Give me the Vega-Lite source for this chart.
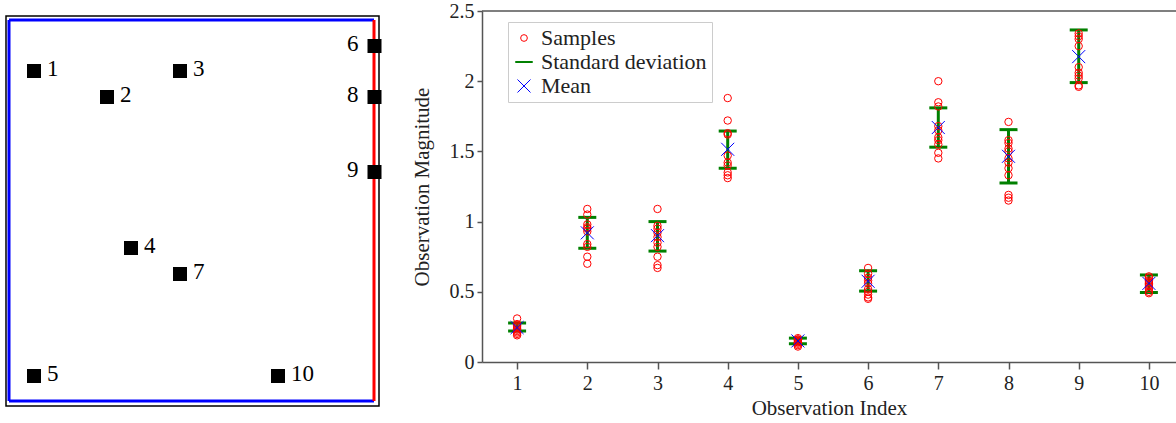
{
  "$schema": "https://vega.github.io/schema/vega-lite/v6.json",
  "background": "white",
  "padding": {"left": 5, "top": 1, "right": 0, "bottom": 0},
  "spacing": 29,
  "config": {
    "font": "Liberation Serif",
    "view": {"stroke": null},
    "axis": {
      "domainColor": "#555555",
      "domainWidth": 1.5,
      "tickColor": "#555555",
      "tickWidth": 1.5,
      "tickSize": 6,
      "grid": false,
      "labelFont": "Liberation Serif",
      "labelFontSize": 20,
      "labelColor": "#222222",
      "labelPadding": 3,
      "titleFont": "Liberation Serif",
      "titleFontSize": 21,
      "titleFontWeight": "normal",
      "titleColor": "#222222"
    }
  },
  "datasets": {
    "walls": [
      {"x": 3, "y": 5, "x2": 3, "y2": 386, "kind": "open"},
      {"x": 3, "y": 386, "x2": 368, "y2": 386, "kind": "open"},
      {"x": 3, "y": 5, "x2": 368, "y2": 5, "kind": "open"},
      {"x": 368, "y": 5, "x2": 368, "y2": 386, "kind": "reflective"}
    ],
    "sensors": [
      {"id": 1, "x": 28, "y": 335},
      {"id": 2, "x": 101, "y": 309},
      {"id": 3, "x": 174, "y": 335},
      {"id": 4, "x": 125, "y": 158},
      {"id": 5, "x": 28, "y": 30},
      {"id": 6, "x": 368.5, "y": 360},
      {"id": 7, "x": 174, "y": 132},
      {"id": 8, "x": 368.5, "y": 309},
      {"id": 9, "x": 368.5, "y": 234},
      {"id": 10, "x": 272, "y": 30}
    ],
    "samples": [
      {"idx": 1, "value": 0.31}, {"idx": 1, "value": 0.27}, {"idx": 1, "value": 0.26}, {"idx": 1, "value": 0.25}, {"idx": 1, "value": 0.24},
      {"idx": 1, "value": 0.23}, {"idx": 1, "value": 0.22}, {"idx": 1, "value": 0.21}, {"idx": 1, "value": 0.2}, {"idx": 1, "value": 0.19},
      {"idx": 2, "value": 1.09}, {"idx": 2, "value": 1.05}, {"idx": 2, "value": 0.98}, {"idx": 2, "value": 0.96}, {"idx": 2, "value": 0.95},
      {"idx": 2, "value": 0.93}, {"idx": 2, "value": 0.84}, {"idx": 2, "value": 0.82}, {"idx": 2, "value": 0.75}, {"idx": 2, "value": 0.7},
      {"idx": 3, "value": 1.09}, {"idx": 3, "value": 0.97}, {"idx": 3, "value": 0.95}, {"idx": 3, "value": 0.92}, {"idx": 3, "value": 0.89},
      {"idx": 3, "value": 0.85}, {"idx": 3, "value": 0.82}, {"idx": 3, "value": 0.75}, {"idx": 3, "value": 0.69}, {"idx": 3, "value": 0.67},
      {"idx": 4, "value": 1.88}, {"idx": 4, "value": 1.72}, {"idx": 4, "value": 1.63}, {"idx": 4, "value": 1.62}, {"idx": 4, "value": 1.47},
      {"idx": 4, "value": 1.42}, {"idx": 4, "value": 1.4}, {"idx": 4, "value": 1.35}, {"idx": 4, "value": 1.33}, {"idx": 4, "value": 1.31},
      {"idx": 5, "value": 0.17}, {"idx": 5, "value": 0.16}, {"idx": 5, "value": 0.16}, {"idx": 5, "value": 0.15}, {"idx": 5, "value": 0.15},
      {"idx": 5, "value": 0.14}, {"idx": 5, "value": 0.14}, {"idx": 5, "value": 0.13}, {"idx": 5, "value": 0.12}, {"idx": 5, "value": 0.11},
      {"idx": 6, "value": 0.67}, {"idx": 6, "value": 0.63}, {"idx": 6, "value": 0.6}, {"idx": 6, "value": 0.58}, {"idx": 6, "value": 0.56},
      {"idx": 6, "value": 0.52}, {"idx": 6, "value": 0.5}, {"idx": 6, "value": 0.48}, {"idx": 6, "value": 0.46}, {"idx": 6, "value": 0.45},
      {"idx": 7, "value": 2.0}, {"idx": 7, "value": 1.85}, {"idx": 7, "value": 1.82}, {"idx": 7, "value": 1.68}, {"idx": 7, "value": 1.65},
      {"idx": 7, "value": 1.6}, {"idx": 7, "value": 1.58}, {"idx": 7, "value": 1.55}, {"idx": 7, "value": 1.49}, {"idx": 7, "value": 1.45},
      {"idx": 8, "value": 1.71}, {"idx": 8, "value": 1.58}, {"idx": 8, "value": 1.56}, {"idx": 8, "value": 1.52}, {"idx": 8, "value": 1.5},
      {"idx": 8, "value": 1.45}, {"idx": 8, "value": 1.42}, {"idx": 8, "value": 1.38}, {"idx": 8, "value": 1.33}, {"idx": 8, "value": 1.19},
      {"idx": 8, "value": 1.17}, {"idx": 8, "value": 1.15},
      {"idx": 9, "value": 2.34}, {"idx": 9, "value": 2.32}, {"idx": 9, "value": 2.3}, {"idx": 9, "value": 2.25}, {"idx": 9, "value": 2.1},
      {"idx": 9, "value": 2.06}, {"idx": 9, "value": 2.04}, {"idx": 9, "value": 2.02}, {"idx": 9, "value": 1.97}, {"idx": 9, "value": 1.96},
      {"idx": 10, "value": 0.61}, {"idx": 10, "value": 0.6}, {"idx": 10, "value": 0.58}, {"idx": 10, "value": 0.57}, {"idx": 10, "value": 0.56},
      {"idx": 10, "value": 0.55}, {"idx": 10, "value": 0.54}, {"idx": 10, "value": 0.52}, {"idx": 10, "value": 0.5}, {"idx": 10, "value": 0.49}
    ],
    "summary": [
      {"idx": 1, "mean": 0.245, "lo": 0.22, "hi": 0.278},
      {"idx": 2, "mean": 0.92, "lo": 0.81, "hi": 1.03},
      {"idx": 3, "mean": 0.9, "lo": 0.79, "hi": 1.0},
      {"idx": 4, "mean": 1.515, "lo": 1.38, "hi": 1.645},
      {"idx": 5, "mean": 0.15, "lo": 0.13, "hi": 0.17},
      {"idx": 6, "mean": 0.575, "lo": 0.505, "hi": 0.65},
      {"idx": 7, "mean": 1.67, "lo": 1.53, "hi": 1.81},
      {"idx": 8, "mean": 1.465, "lo": 1.275, "hi": 1.655},
      {"idx": 9, "mean": 2.175, "lo": 1.99, "hi": 2.365},
      {"idx": 10, "mean": 0.56, "lo": 0.495, "hi": 0.62}
    ]
  },
  "resolve": {"scale": {"x": "independent", "y": "independent", "color": "independent", "shape": "independent"}},
  "hconcat": [
    {
      "width": 373,
      "height": 395,
      "layer": [
        {
          "data": {"values": [{}]},
          "mark": {"type": "rect", "fill": null, "stroke": "black", "strokeWidth": 1.5},
          "encoding": {
            "x": {"datum": 0, "type": "quantitative", "scale": {"domain": [0, 373], "nice": false, "zero": false}, "axis": null},
            "x2": {"datum": 373},
            "y": {"datum": 0, "type": "quantitative", "scale": {"domain": [0, 395], "nice": false, "zero": false}, "axis": null},
            "y2": {"datum": 390}
          }
        },
        {
          "data": {"name": "walls"},
          "mark": {"type": "rule", "strokeWidth": 3},
          "encoding": {
            "x": {"field": "x", "type": "quantitative"},
            "x2": {"field": "x2"},
            "y": {"field": "y", "type": "quantitative"},
            "y2": {"field": "y2"},
            "color": {"field": "kind", "type": "nominal", "scale": {"domain": ["open", "reflective"], "range": ["#0000ff", "#ff0000"]}, "legend": null},
            "order": {"field": "x", "type": "quantitative"}
          }
        },
        {
          "data": {"name": "sensors"},
          "mark": {"type": "point", "shape": "square", "filled": true, "color": "black", "opacity": 1, "size": 196},
          "encoding": {
            "x": {"field": "x", "type": "quantitative"},
            "y": {"field": "y", "type": "quantitative"}
          }
        },
        {
          "data": {"name": "sensors"},
          "transform": [{"filter": "datum.id != 6 && datum.id != 8 && datum.id != 9"}],
          "mark": {"type": "text", "align": "left", "baseline": "alphabetic", "dx": 13, "dy": 5, "fontSize": 23, "font": "Liberation Serif", "color": "black"},
          "encoding": {
            "x": {"field": "x", "type": "quantitative"},
            "y": {"field": "y", "type": "quantitative"},
            "text": {"field": "id", "type": "nominal"}
          }
        },
        {
          "data": {"name": "sensors"},
          "transform": [{"filter": "datum.id == 6 || datum.id == 8 || datum.id == 9"}],
          "mark": {"type": "text", "align": "right", "baseline": "alphabetic", "dx": -16, "dy": 5, "fontSize": 23, "font": "Liberation Serif", "color": "black"},
          "encoding": {
            "x": {"field": "x", "type": "quantitative"},
            "y": {"field": "y", "type": "quantitative"},
            "text": {"field": "id", "type": "nominal"}
          }
        }
      ]
    },
    {
      "width": 694,
      "height": 351,
      "layer": [
        {
          "data": {"values": [{}]},
          "mark": {"type": "rule", "color": "#555555", "strokeWidth": 1.5},
          "encoding": {
            "y": {"datum": 2.5, "type": "quantitative", "scale": {"domain": [0, 2.5], "nice": false, "zero": false}}
          }
        },
        {
          "data": {"name": "summary"},
          "mark": {"type": "rule", "color": "#008000", "strokeWidth": 3},
          "encoding": {
            "x": {"field": "idx", "type": "quantitative", "scale": {"domain": [0.5, 10.386], "nice": false, "zero": false},
                  "axis": {"values": [1, 2, 3, 4, 5, 6, 7, 8, 9, 10], "format": "d", "title": "Observation Index", "tickSize": 7, "labelPadding": 4, "titlePadding": 4}},
            "y": {"field": "lo", "type": "quantitative",
                  "axis": {"values": [0, 0.5, 1, 1.5, 2, 2.5], "format": "~g", "title": "Observation Magnitude", "tickSize": 5, "titlePadding": 17}},
            "y2": {"field": "hi"}
          }
        },
        {
          "data": {"name": "summary"},
          "mark": {"type": "tick", "orient": "horizontal", "color": "#008000", "thickness": 3, "size": 18, "opacity": 1},
          "encoding": {
            "x": {"field": "idx", "type": "quantitative"},
            "y": {"field": "lo", "type": "quantitative"}
          }
        },
        {
          "data": {"name": "summary"},
          "mark": {"type": "tick", "orient": "horizontal", "color": "#008000", "thickness": 3, "size": 18, "opacity": 1},
          "encoding": {
            "x": {"field": "idx", "type": "quantitative"},
            "y": {"field": "hi", "type": "quantitative"}
          }
        },
        {
          "data": {"name": "samples"},
          "mark": {"type": "point", "filled": false, "size": 55, "strokeWidth": 1, "opacity": 1},
          "encoding": {
            "x": {"field": "idx", "type": "quantitative"},
            "y": {"field": "value", "type": "quantitative"},
            "color": {"datum": "Samples", "type": "nominal",
                      "scale": {"domain": ["Samples", "Standard deviation", "Mean"], "range": ["#ff0000", "#008000", "#0000ff"]},
                      "legend": {
                        "title": null, "orient": "none", "legendX": 26, "legendY": 11,
                        "strokeColor": "#cccccc", "fillColor": "white", "padding": 5, "cornerRadius": 0,
                        "labelFont": "Liberation Serif", "labelFontSize": 22, "labelColor": "#222222", "labelOffset": 6, "labelLimit": 400,
                        "symbolSize": 45, "symbolStrokeWidth": 1, "symbolOpacity": 1, "rowPadding": 2
                      }},
            "shape": {"datum": "Samples", "type": "nominal",
                      "scale": {"domain": ["Samples", "Standard deviation", "Mean"], "range": ["circle", "M-2.53,-0.15H2.53V0.15H-2.53Z", "M-1.94,-1.94L1.94,1.94M-1.94,1.94L1.94,-1.94"]},
                      "legend": {
                        "title": null, "orient": "none", "legendX": 26, "legendY": 11,
                        "strokeColor": "#cccccc", "fillColor": "white", "padding": 5, "cornerRadius": 0,
                        "labelFont": "Liberation Serif", "labelFontSize": 22, "labelColor": "#222222", "labelOffset": 6, "labelLimit": 400,
                        "symbolSize": 45, "symbolStrokeWidth": 1, "symbolOpacity": 1, "rowPadding": 2
                      }}
          }
        },
        {
          "data": {"name": "summary"},
          "mark": {"type": "point", "filled": false, "size": 45, "strokeWidth": 1, "opacity": 1},
          "encoding": {
            "x": {"field": "idx", "type": "quantitative"},
            "y": {"field": "mean", "type": "quantitative"},
            "color": {"datum": "Mean", "type": "nominal"},
            "shape": {"datum": "Mean", "type": "nominal"}
          }
        }
      ]
    }
  ]
}
